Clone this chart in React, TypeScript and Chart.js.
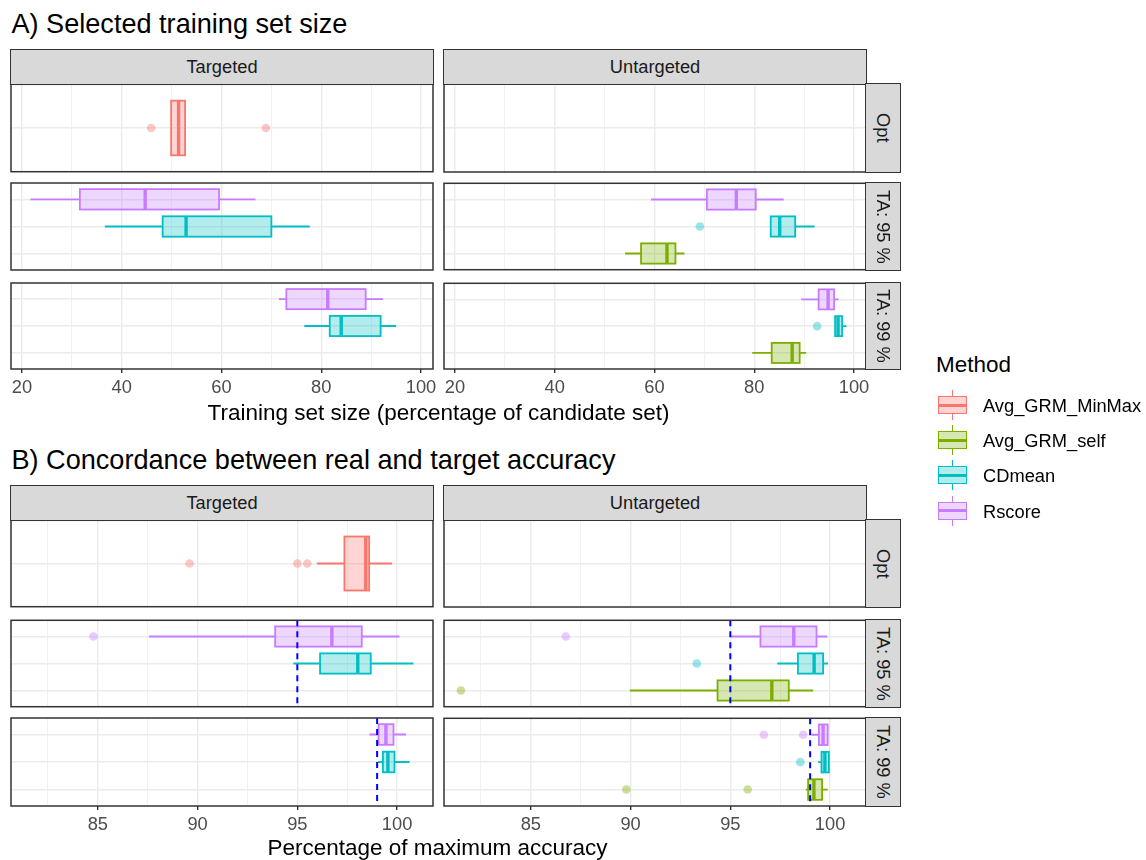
import React, { useEffect, useRef } from "react";
import { Chart, registerables } from "chart.js";
Chart.register(...registerables);

const FONT = "'Liberation Sans', Arial, Helvetica, sans-serif";

// ---------- data ----------
const METHODS = ["Avg_GRM_MinMax", "Avg_GRM_self", "CDmean", "Rscore"];
const METHOD_COLORS = ["#F8766D", "#7CAE00", "#00BFC4", "#C77CFF"];
const COLUMNS = ["Targeted", "Untargeted"];
const ROWS = ["Opt", "TA: 95 %", "TA: 99 %"];
const OPT_LEVELS = ["Avg_GRM_MinMax"];
const TA_LEVELS = ["Avg_GRM_self", "CDmean", "Rscore"]; // bottom to top
const ROW_LEVELS = [OPT_LEVELS, TA_LEVELS, TA_LEVELS];

const A_TITLE = "A) Selected training set size";
const A_XLABEL = "Training set size (percentage of candidate set)";
const A_MAJOR = [20, 40, 60, 80, 100];
const A_MINOR = [30, 50, 70, 90];
const A_LIMITS = [17.8, 102.4];

const B_TITLE = "B) Concordance between real and target accuracy";
const B_XLABEL = "Percentage of maximum accuracy";
const B_MAJOR = [85, 90, 95, 100];
const B_MINOR = [82.5, 87.5, 92.5, 97.5];
const B_LIMITS = [80.65, 101.8];
const B_TARGETS = [null, 95, 99];

// stats: [lower whisker, Q1, median, Q3, upper whisker]
const A_TARGETED_OPT = [
  { method: "Avg_GRM_MinMax", stats: [49.9, 49.9, 51.4, 52.7, 52.7], outliers: [45.9, 68.9] },
];
const A_TARGETED_TA95 = [
  { method: "Rscore", stats: [21.7, 31.6, 44.7, 59.5, 66.8], outliers: [] },
  { method: "CDmean", stats: [36.6, 48.2, 52.9, 70.0, 77.7], outliers: [] },
];
const A_TARGETED_TA99 = [
  { method: "Rscore", stats: [71.5, 73.0, 81.3, 88.9, 92.4], outliers: [] },
  { method: "CDmean", stats: [76.6, 81.7, 84.0, 91.9, 95.0], outliers: [] },
];
const A_UNTARGETED_OPT = [];
const A_UNTARGETED_TA95 = [
  { method: "Rscore", stats: [59.3, 70.5, 76.4, 80.3, 85.9], outliers: [] },
  { method: "CDmean", stats: [83.3, 83.3, 85.1, 88.2, 92.1], outliers: [69.1] },
  { method: "Avg_GRM_self", stats: [54.1, 57.3, 62.5, 64.2, 66.0], outliers: [] },
];
const A_UNTARGETED_TA99 = [
  { method: "Rscore", stats: [89.4, 92.9, 94.8, 96.0, 96.9], outliers: [] },
  { method: "CDmean", stats: [96.2, 96.2, 96.8, 97.6, 98.5], outliers: [92.6] },
  { method: "Avg_GRM_self", stats: [79.6, 83.5, 87.6, 89.1, 90.4], outliers: [] },
];

const B_TARGETED_OPT = [
  { method: "Avg_GRM_MinMax", stats: [95.98, 97.36, 98.43, 98.6, 99.75], outliers: [89.6, 95.0, 95.5] },
];
const B_TARGETED_TA95 = [
  { method: "Rscore", stats: [87.57, 93.89, 96.73, 98.23, 100.12], outliers: [84.78] },
  { method: "CDmean", stats: [94.8, 96.14, 98.03, 98.68, 100.82], outliers: [] },
];
const B_TARGETED_TA99 = [
  { method: "Rscore", stats: [98.61, 99.07, 99.44, 99.82, 100.45], outliers: [] },
  { method: "CDmean", stats: [99.04, 99.29, 99.54, 99.87, 100.62], outliers: [] },
];
const B_UNTARGETED_OPT = [];
const B_UNTARGETED_TA95 = [
  { method: "Rscore", stats: [95.03, 96.51, 98.18, 99.32, 99.86], outliers: [86.75] },
  { method: "CDmean", stats: [97.35, 98.39, 99.2, 99.65, 99.9], outliers: [93.32] },
  { method: "Avg_GRM_self", stats: [89.96, 94.36, 97.08, 97.93, 99.15], outliers: [81.5] },
];
const B_UNTARGETED_TA99 = [
  { method: "Rscore", stats: [99.07, 99.44, 99.65, 99.88, 99.9], outliers: [96.68, 98.65] },
  { method: "CDmean", stats: [99.4, 99.57, 99.74, 99.94, 99.94], outliers: [98.51] },
  { method: "Avg_GRM_self", stats: [98.78, 98.9, 99.19, 99.6, 99.88], outliers: [89.79, 95.87] },
];

const A_PANELS = [
  [A_TARGETED_OPT, A_TARGETED_TA95, A_TARGETED_TA99],
  [A_UNTARGETED_OPT, A_UNTARGETED_TA95, A_UNTARGETED_TA99],
];
const B_PANELS = [
  [B_TARGETED_OPT, B_TARGETED_TA95, B_TARGETED_TA99],
  [B_UNTARGETED_OPT, B_UNTARGETED_TA95, B_UNTARGETED_TA99],
];

// ---------- layout ----------
const COL_X = [11, 444];
const PANEL_W = 422;
const A_STRIP_TOP = 49;
const A_ROWS = [[84, 88], [183, 87], [283, 86]];
const B_STRIP_TOP = 485;
const B_ROWS = [[520, 87], [620, 87], [718, 88]];
const STRIP_H = 35;
const RSTRIP_W = 36;
const PADX = 26;
const PADY = 4;
const AXIS_H = 34;
const GRID = "#EBEBEB";
const EDGE = "#333333";
const SMALL = 18.3;

function rgba(hex, a) {
  const n = parseInt(hex.slice(1), 16);
  return `rgba(${(n >> 16) & 255},${(n >> 8) & 255},${n & 255},${a})`;
}

function Panel({ x, y, w, h, limits, major, minor, levels, boxes, target, bottom }) {
  const ref = useRef(null);
  const cw = w + 2 * PADX;
  const ch = h + PADY + (bottom ? AXIS_H : PADY);
  useEffect(() => {
    const ticks = [...major, ...minor].sort((a, b) => a - b);
    const datasets = boxes.map((b) => {
      const ci = METHODS.indexOf(b.method);
      const pos = levels.indexOf(b.method) + 1;
      return {
        label: b.method,
        data: b.outliers.map((v) => ({ x: v, y: pos })),
        backgroundColor: rgba(METHOD_COLORS[ci], 0.4),
        borderWidth: 0,
        pointRadius: 4.3,
        pointHoverRadius: 4.3,
      };
    });
    const plugin = {
      id: "boxplots",
      afterDatasetsDraw(chart) {
        const { ctx, chartArea: ca, scales } = chart;
        const xs = scales.x;
        const ys = scales.y;
        ctx.save();
        ctx.beginPath();
        ctx.rect(ca.left, ca.top, ca.right - ca.left, ca.bottom - ca.top);
        ctx.clip();
        boxes.forEach((b) => {
          const col = METHOD_COLORS[METHODS.indexOf(b.method)];
          const pos = levels.indexOf(b.method) + 1;
          const yc = ys.getPixelForValue(pos);
          const y0 = ys.getPixelForValue(pos + 0.375);
          const y1 = ys.getPixelForValue(pos - 0.375);
          const [lo, q1, md, q3, hi] = b.stats.map((v) => xs.getPixelForValue(v));
          ctx.strokeStyle = col;
          ctx.lineWidth = 1.8;
          ctx.beginPath();
          ctx.moveTo(lo, yc);
          ctx.lineTo(q1, yc);
          ctx.moveTo(q3, yc);
          ctx.lineTo(hi, yc);
          ctx.stroke();
          ctx.fillStyle = rgba(col, 0.3);
          ctx.fillRect(q1, y0, q3 - q1, y1 - y0);
          ctx.strokeRect(q1, y0, q3 - q1, y1 - y0);
          ctx.lineWidth = 3.4;
          ctx.beginPath();
          ctx.moveTo(md, y0);
          ctx.lineTo(md, y1);
          ctx.stroke();
        });
        if (target != null) {
          const tx = xs.getPixelForValue(target);
          ctx.strokeStyle = "#0000FF";
          ctx.lineWidth = 2;
          ctx.setLineDash([6, 5]);
          ctx.beginPath();
          ctx.moveTo(tx, ca.top);
          ctx.lineTo(tx, ca.bottom);
          ctx.stroke();
        }
        ctx.restore();
      },
      afterDraw(chart) {
        const { ctx, chartArea: ca } = chart;
        ctx.save();
        ctx.strokeStyle = EDGE;
        ctx.lineWidth = 1.5;
        ctx.strokeRect(ca.left, ca.top, ca.right - ca.left, ca.bottom - ca.top);
        ctx.restore();
      },
    };
    const chart = new Chart(ref.current, {
      type: "scatter",
      data: { datasets },
      options: {
        animation: false,
        responsive: false,
        events: [],
        layout: { padding: { left: PADX, right: PADX, top: PADY, bottom: bottom ? 0 : PADY } },
        plugins: { legend: { display: false }, tooltip: { enabled: false } },
        scales: {
          x: {
            type: "linear",
            position: "bottom",
            min: limits[0],
            max: limits[1],
            afterBuildTicks: (s) => {
              s.ticks = ticks.map((v) => ({ value: v }));
            },
            afterFit: (s) => {
              s.height = bottom ? AXIS_H : 0;
            },
            border: { display: false },
            grid: {
              color: GRID,
              lineWidth: (c) => (c.tick && major.includes(c.tick.value) ? 1.4 : 0.7),
              drawTicks: bottom,
              tickLength: 4,
              tickWidth: 1.4,
              tickColor: (c) => (c.tick && major.includes(c.tick.value) ? EDGE : "rgba(0,0,0,0)"),
            },
            ticks: {
              display: bottom,
              autoSkip: false,
              maxRotation: 0,
              minRotation: 0,
              padding: 4,
              color: "#4D4D4D",
              font: { family: FONT, size: SMALL },
              callback: (v) => (major.includes(v) ? String(v) : ""),
            },
          },
          y: {
            type: "linear",
            min: 0.4,
            max: levels.length + 0.6,
            afterBuildTicks: (s) => {
              s.ticks = levels.map((_, i) => ({ value: i + 1 }));
            },
            afterFit: (s) => {
              s.width = 0;
            },
            border: { display: false },
            grid: { color: GRID, lineWidth: 1.4, drawTicks: false },
            ticks: { display: false },
          },
        },
      },
      plugins: [plugin],
    });
    return () => chart.destroy();
  }, []);
  return (
    <canvas
      ref={ref}
      width={cw}
      height={ch}
      style={{ position: "absolute", left: x - PADX, top: y - PADY, width: cw, height: ch }}
    />
  );
}

function Txt({ x, baseline, size, children, align = "left", color = "#000" }) {
  const top = baseline - 0.8465 * size;
  const style: any = {
    position: "absolute",
    top,
    fontSize: size,
    lineHeight: `${size}px`,
    whiteSpace: "nowrap",
    color,
    fontFamily: FONT,
  };
  if (align === "center") {
    style.left = x - 500;
    style.width = 1000;
    style.textAlign = "center";
  } else {
    style.left = x;
  }
  return <div style={style}>{children}</div>;
}

function Strip({ left, top, width, height, text, vertical = false }) {
  return (
    <div
      style={{
        position: "absolute",
        left,
        top,
        width,
        height,
        boxSizing: "border-box",
        background: "#D9D9D9",
        border: `1.5px solid ${EDGE}`,
        display: "flex",
        alignItems: "center",
        justifyContent: "center",
        fontFamily: FONT,
        fontSize: SMALL,
        lineHeight: `${SMALL}px`,
        color: "#1A1A1A",
      }}
    >
      <span style={vertical ? { writingMode: "vertical-rl" } : undefined}>{text}</span>
    </div>
  );
}

function Section({ stripTop, rows, panels, limits, major, minor, targets }) {
  const out = [];
  COLUMNS.forEach((col, ci) => {
    rows.forEach(([ry, rh], ri) => {
      out.push(
        <Panel
          key={`p${ci}${ri}`}
          x={COL_X[ci]}
          y={ry}
          w={PANEL_W}
          h={rh}
          limits={limits}
          major={major}
          minor={minor}
          levels={ROW_LEVELS[ri]}
          boxes={panels[ci][ri]}
          target={targets ? targets[ri] : null}
          bottom={ri === rows.length - 1}
        />
      );
    });
  });
  COLUMNS.forEach((col, ci) => {
    out.push(
      <Strip key={`s${ci}`} left={COL_X[ci] - 0.75} top={stripTop} width={PANEL_W + 1.5} height={STRIP_H + 1} text={col} />
    );
  });
  rows.forEach(([ry, rh], ri) => {
    out.push(
      <Strip
        key={`r${ri}`}
        left={COL_X[1] + PANEL_W - 0.75}
        top={ry - 0.75}
        width={RSTRIP_W}
        height={rh + 1.5}
        text={ROWS[ri]}
        vertical
      />
    );
  });
  return <>{out}</>;
}

function LegendKey({ x, cy, color }) {
  const w = 29;
  const boxH = 18;
  const whisk = 30;
  return (
    <>
      <div
        style={{
          position: "absolute",
          left: x + w / 2 - 0.9,
          top: cy - whisk / 2,
          width: 1.8,
          height: whisk,
          background: color,
        }}
      />
      <div
        style={{
          position: "absolute",
          left: x,
          top: cy - boxH / 2,
          width: w,
          height: boxH,
          boxSizing: "border-box",
          border: `1.8px solid ${color}`,
          background: "#fff",
        }}
      />
      <div
        style={{
          position: "absolute",
          left: x,
          top: cy - boxH / 2,
          width: w,
          height: boxH,
          boxSizing: "border-box",
          border: `1.8px solid ${color}`,
          background: rgba(color, 0.3),
        }}
      />
      <div
        style={{
          position: "absolute",
          left: x,
          top: cy - 1.5,
          width: w,
          height: 3,
          background: color,
        }}
      />
    </>
  );
}

const LEGEND_Y = [405, 440, 475.3, 510.8];

export default function App() {
  return (
    <div
      style={{
        position: "absolute",
        left: 0,
        top: 0,
        width: 1146,
        height: 860,
        background: "#FFFFFF",
        overflow: "hidden",
        fontFamily: FONT,
      }}
    >
      <Txt x={11.5} baseline={33} size={27.1}>{A_TITLE}</Txt>
      <Section
        stripTop={A_STRIP_TOP}
        rows={A_ROWS}
        panels={A_PANELS}
        limits={A_LIMITS}
        major={A_MAJOR}
        minor={A_MINOR}
        targets={null}
      />
      <Txt x={438.5} baseline={420.7} size={22.5} align="center">{A_XLABEL}</Txt>

      <Txt x={11.5} baseline={469.3} size={27.1}>{B_TITLE}</Txt>
      <Section
        stripTop={B_STRIP_TOP}
        rows={B_ROWS}
        panels={B_PANELS}
        limits={B_LIMITS}
        major={B_MAJOR}
        minor={B_MINOR}
        targets={B_TARGETS}
      />
      <Txt x={437.5} baseline={856.5} size={22.5} align="center">{B_XLABEL}</Txt>

      <Txt x={936} baseline={373.3} size={22.5}>Method</Txt>
      {METHODS.map((m, i) => (
        <React.Fragment key={m}>
          <LegendKey x={938} cy={LEGEND_Y[i]} color={METHOD_COLORS[i]} />
          <Txt x={983} baseline={LEGEND_Y[i] + 1 + 0.358 * SMALL} size={SMALL}>{m}</Txt>
        </React.Fragment>
      ))}
    </div>
  );
}
